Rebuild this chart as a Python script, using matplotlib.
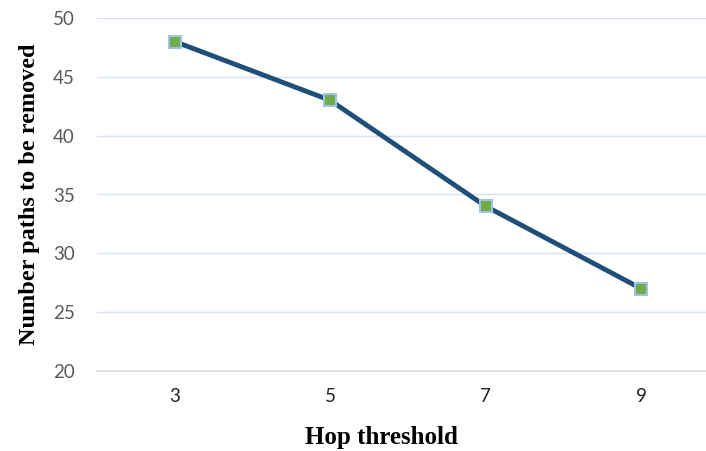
import matplotlib.pyplot as plt

# data
hop_labels = ['3', '5', '7', '9']
paths_removed = [48, 43, 34, 27]
y_ticks = [20, 25, 30, 35, 40, 45, 50]

fig = plt.figure(figsize=(7.06, 4.51), dpi=100, facecolor='white')
ax = fig.add_axes([97 / 706, 1 - 371 / 451, 622 / 706, 353 / 451])

xs = list(range(len(hop_labels)))
ax.plot(xs, paths_removed, color='#1F4E79', linewidth=3.5, zorder=3,
        marker='s', markersize=8, markerfacecolor='#70AD47',
        markeredgecolor='#9DC3E6', markeredgewidth=1.5)

ax.set_xlim(-0.5, len(hop_labels) - 0.5)
ax.set_ylim(20, 50)
ax.set_xticks(xs)
ax.set_xticklabels(hop_labels)
ax.set_yticks(y_ticks)

ax.grid(axis='y', color='#D6E2F3', linewidth=1)
ax.set_axisbelow(True)
for s in ['top', 'right', 'left']:
    ax.spines[s].set_visible(False)
ax.spines['bottom'].set_color('#D9D9D9')
ax.spines['bottom'].set_linewidth(1.2)
ax.tick_params(axis='y', length=0, labelsize=13.5, labelcolor='#595959', pad=16)
ax.tick_params(axis='x', length=0, labelsize=13.5, labelcolor='#222222', pad=12)
for lab in ax.get_xticklabels() + ax.get_yticklabels():
    lab.set_family('Lato')

ax.set_xlabel('Hop threshold', fontsize=18, fontweight='bold',
              family='Liberation Serif')
ax.xaxis.set_label_coords(0.457, -0.155)
ax.set_ylabel('Number paths to be removed', fontsize=17.5, fontweight='bold',
              family='Liberation Serif')
ax.yaxis.set_label_coords(-0.092, 0.5)

fig.savefig('out.png', dpi=100)
